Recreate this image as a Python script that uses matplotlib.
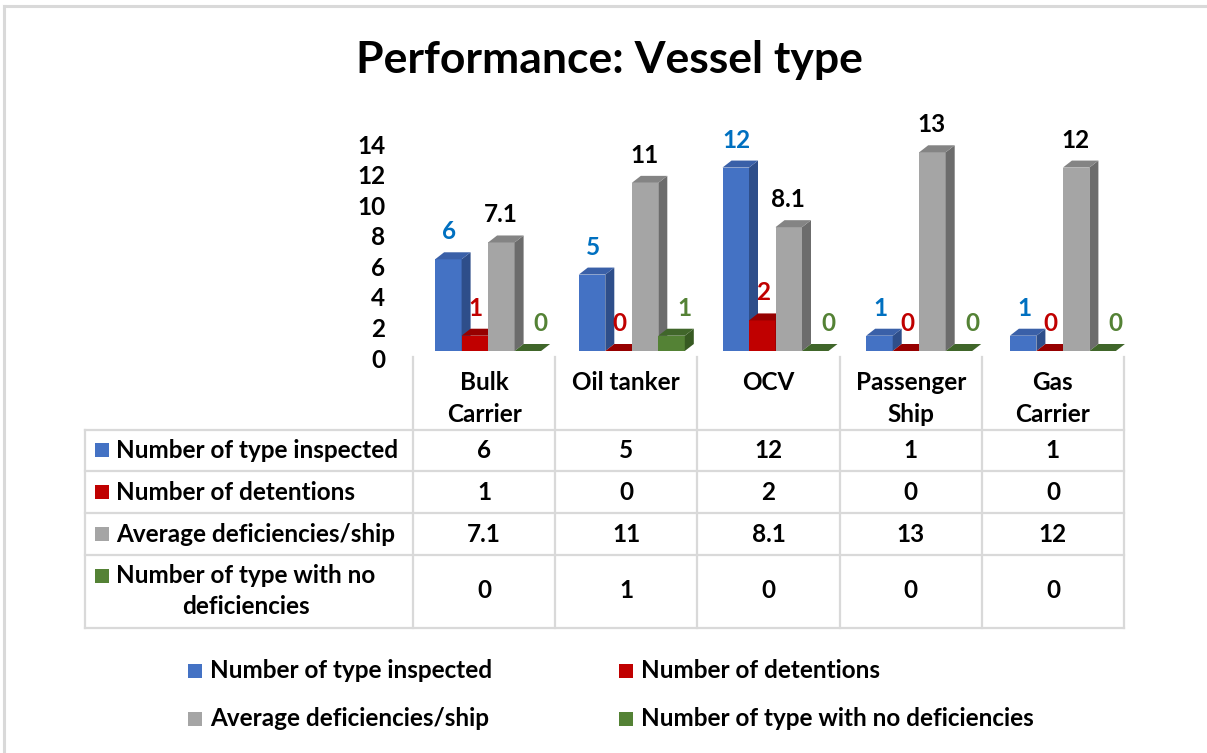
import matplotlib
matplotlib.use("Agg")
import matplotlib.pyplot as plt
from matplotlib.patches import Polygon, Rectangle
from matplotlib.lines import Line2D
import matplotlib.transforms as mtransforms

plt.rcParams['font.family'] = ['Lato', 'DejaVu Sans']
plt.rcParams['font.weight'] = 'bold'

# ---------------- data ----------------
title = "Performance: Vessel type"
categories = ["Bulk\nCarrier", "Oil tanker", "OCV", "Passenger\nShip", "Gas\nCarrier"]
series_names = ["Number of type inspected", "Number of detentions",
                "Average deficiencies/ship", "Number of type with no deficiencies"]
table_row_labels = ["Number of type inspected", "Number of detentions",
                    "Average deficiencies/ship", "Number of type with no\ndeficiencies"]
inspected = [6, 5, 12, 1, 1]
detentions = [1, 0, 2, 0, 0]
avg_deficiencies = [7.1, 11, 8.1, 13, 12]
no_deficiencies = [0, 1, 0, 0, 0]
yticks = [0, 2, 4, 6, 8, 10, 12, 14]

series = [inspected, detentions, avg_deficiencies, no_deficiencies]

# ---------------- style ----------------
front_cols = ["#4472C4", "#C00000", "#A5A5A5", "#548235"]
top_cols = ["#3A60A8", "#960000", "#848484", "#40662A"]
side_cols = ["#2E4E8A", "#840000", "#6C6C6C", "#375A22"]
label_cols = ["#0070C0", "#C00000", "#000000", "#548235"]
label_dx = [1, 1, -1, 13]
grid_col = "#D9D9D9"
FS = 17.5

W, H = 1207, 753
fig = plt.figure(figsize=(W / 100, H / 100), dpi=100)


def fx(px):
    return px / W


def fy(py):
    return 1 - py / H


# plot area
x_left, x_right, y_base, y_top = 413, 1124, 351, 137
ax = fig.add_axes([fx(x_left), fy(y_base), (x_right - x_left) / W, (y_base - y_top) / H])
ax.set_xlim(-0.5, len(categories) - 0.5)
ax.set_ylim(0, 14)
for s in ax.spines.values():
    s.set_visible(False)
ax.set_xticks([])
ax.set_yticks(yticks)
ax.set_yticklabels([str(t) for t in yticks], fontsize=FS, fontweight='bold')
ax.tick_params(axis='y', length=0, pad=20)
shift = mtransforms.ScaledTranslation(0, -7 / 100, fig.dpi_scale_trans)
for lab in ax.get_yticklabels():
    lab.set_transform(lab.get_transform() + shift)

ux = (x_right - x_left) / len(categories)
uy = (y_base - y_top) / 14.0
bar_w = 26.5 / ux
dxd = 9 / ux
dyd = 7 / uy

z = 2
for i in range(len(categories)):
    left0 = i - 2 * bar_w + (4 + 1.5 * i) / ux
    for j, vals in enumerate(series):
        v = vals[i]
        xl = left0 + j * bar_w
        ax.bar(xl, v, width=bar_w, align='edge', color=front_cols[j], linewidth=0, zorder=z)
        ax.add_patch(Polygon([(xl, v), (xl + bar_w, v), (xl + bar_w + dxd, v + dyd), (xl + dxd, v + dyd)],
                             closed=True, facecolor=top_cols[j], edgecolor='none', zorder=z + 0.1,
                             clip_on=False))
        ax.add_patch(Polygon([(xl + bar_w, 0), (xl + bar_w + dxd, dyd), (xl + bar_w + dxd, v + dyd),
                              (xl + bar_w, v)],
                             closed=True, facecolor=side_cols[j], edgecolor='none', zorder=z + 0.05,
                             clip_on=False))
        ax.annotate(f"{v:g}", xy=(xl + bar_w / 2, v), xytext=(label_dx[j] * 0.72, 20 * 0.72),
                    textcoords='offset points', ha='center', va='baseline', color=label_cols[j],
                    fontsize=FS, fontweight='bold', zorder=50)
        z += 1

# title
fig.text(fx(609), fy(73), title, ha='center', va='baseline', fontsize=32, fontweight='bold')

# figure border (top and left visible)
fig.add_artist(Line2D([fx(4), fx(1300)], [fy(6), fy(6)], color=grid_col, lw=2.2))
fig.add_artist(Line2D([fx(4), fx(4)], [fy(6), fy(800)], color=grid_col, lw=2.2))

# ---------------- data table ----------------
col_edges = [x_left + k * ux for k in range(len(categories) + 1)]
row_lines = [430, 471, 513, 555, 628]
row_centers = [450, 492, 534, 591]
tbl_left = 85
for yy in row_lines:
    fig.add_artist(Line2D([fx(tbl_left), fx(x_right)], [fy(yy), fy(yy)], color=grid_col, lw=1.6))
fig.add_artist(Line2D([fx(tbl_left), fx(tbl_left)], [fy(430), fy(628)], color=grid_col, lw=1.6))
for xx in col_edges:
    fig.add_artist(Line2D([fx(xx), fx(xx)], [fy(357), fy(628)], color=grid_col, lw=1.6))

# header categories
for i, cat in enumerate(categories):
    cx = x_left + (i + 0.5) * ux
    for k, line in enumerate(cat.split("\n")):
        fig.text(fx(cx), fy(383 + 32 * k), line, ha='center', va='center', fontsize=FS, fontweight='bold')

# row labels with keys
for r, lab in enumerate(table_row_labels):
    lines = lab.split("\n")
    if len(lines) == 1:
        yc = row_centers[r]
        fig.text(fx(116), fy(yc), lab, ha='left', va='center', fontsize=FS, fontweight='bold')
        key_y = yc
    else:
        key_y = row_centers[r] - 15
        fig.text(fx(116), fy(row_centers[r]), lab, ha='left', va='center', fontsize=FS,
                 fontweight='bold', multialignment='center', linespacing=1.4)
    fig.add_artist(Rectangle((fx(95), fy(key_y + 7)), 14 / W, 14 / H, facecolor=front_cols[r],
                             edgecolor='none', transform=fig.transFigure))
    for i in range(len(categories)):
        cx = x_left + (i + 0.5) * ux
        fig.text(fx(cx), fy(row_centers[r]), f"{series[r][i]:g}", ha='center', va='center',
                 fontsize=FS, fontweight='bold')

# ---------------- legend ----------------
leg_pos = [(188, 671), (619, 671), (188, 719), (619, 719)]
for j, name in enumerate(series_names):
    lx, ly = leg_pos[j]
    fig.add_artist(Rectangle((fx(lx), fy(ly + 7)), 14 / W, 14 / H, facecolor=front_cols[j],
                             edgecolor='none', transform=fig.transFigure))
    fig.text(fx(lx + 22), fy(ly), name, ha='left', va='center', fontsize=FS, fontweight='bold')

fig.savefig("out.png", dpi=100, facecolor='white')
